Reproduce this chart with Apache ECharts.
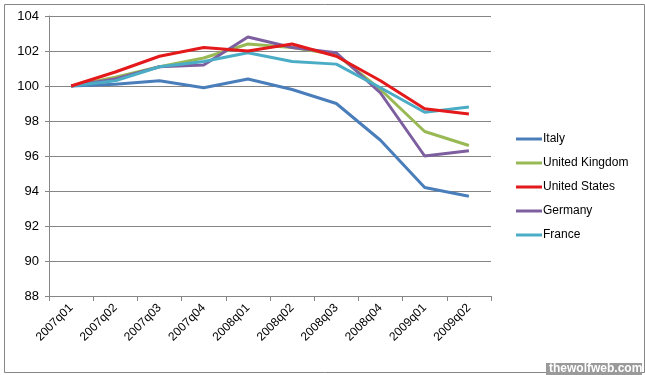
<!DOCTYPE html>
<html><head><meta charset="utf-8">
<script src="https://cdn.jsdelivr.net/npm/echarts@6/dist/echarts.min.js"></script>
<style>html,body{margin:0;padding:0;background:#fff}#c{width:645px;height:375px}</style>
</head><body><div id="c"></div>
<script>
const categories = ['2007q01','2007q02','2007q03','2007q04','2008q01','2008q02','2008q03','2008q04','2009q01','2009q02'];
const italy   = [100, 100.1, 100.3, 99.9, 100.4, 99.8, 99.0, 96.9, 94.2, 93.7];
const uk      = [100, 100.5, 101.1, 101.6, 102.4, 102.2, 101.8, 99.8, 97.4, 96.6];
const us      = [100, 100.8, 101.7, 102.2, 102.0, 102.4, 101.7, 100.3, 98.7, 98.4];
const germany = [100, 100.4, 101.1, 101.2, 102.8, 102.2, 101.9, 99.6, 96.0, 96.3];
const france  = [100, 100.3, 101.1, 101.4, 101.9, 101.4, 101.25, 99.9, 98.5, 98.8];
const seriesNames = ['Italy','United Kingdom','United States','Germany','France'];
const seriesData = [italy, uk, us, germany, france];
const colors = ['#4a7ebb','#98b954','#e3191b','#7d5fa0','#4bacc6'];

const chart = echarts.init(document.getElementById('c'));
const font = 'Liberation Sans';
chart.setOption({
  animation: false,
  color: colors,
  textStyle: {fontFamily: font},
  grid: {left: 49, right: 154, top: 16, bottom: 79},
  legend: {
    orient: 'vertical', left: 511, top: 127, itemGap: 10,
    itemWidth: 26, itemHeight: 3, icon: 'rect',
    textStyle: {fontFamily: font, fontSize: 12, lineHeight: 14, color: '#000', padding: [0,0,0,-4]},
    data: seriesNames
  },
  xAxis: {
    type: 'category', data: categories, boundaryGap: true,
    axisLine: {lineStyle: {color: '#868686', width: 1}},
    axisTick: {show: true, alignWithLabel: false, length: 5, lineStyle: {color: '#868686'}},
    axisLabel: {rotate: 45, fontFamily: font, fontSize: 12, color: '#000', margin: 10}
  },
  yAxis: {
    type: 'value', min: 88, max: 104, interval: 2,
    axisLine: {show: true, lineStyle: {color: '#868686'}},
    axisTick: {show: true, length: 4, lineStyle: {color: '#868686'}},
    splitLine: {lineStyle: {color: '#868686', width: 1}},
    axisLabel: {fontFamily: font, fontSize: 13, color: '#000', margin: 10}
  },
  series: seriesNames.map((n, i) => ({
    name: n, type: 'line', data: seriesData[i], symbol: 'none',
    lineStyle: {width: 3}, z: i === 2 ? 3 : 2
  })),
  graphic: [
    {type: 'rect', left: 2, top: 2, shape: {width: 640, height: 368}, style: {fill: 'none', stroke: '#868686', lineWidth: 1}, silent: true},
    {type: 'rect', left: 546, top: 363, shape: {width: 96, height: 12}, style: {fill: '#9a9a9a'}},
    {type: 'text', left: 549, top: 363, style: {text: 'thewolfweb.com', fill: '#fff', font: 'bold 12px ' + font}}
  ]
});
</script></body></html>
